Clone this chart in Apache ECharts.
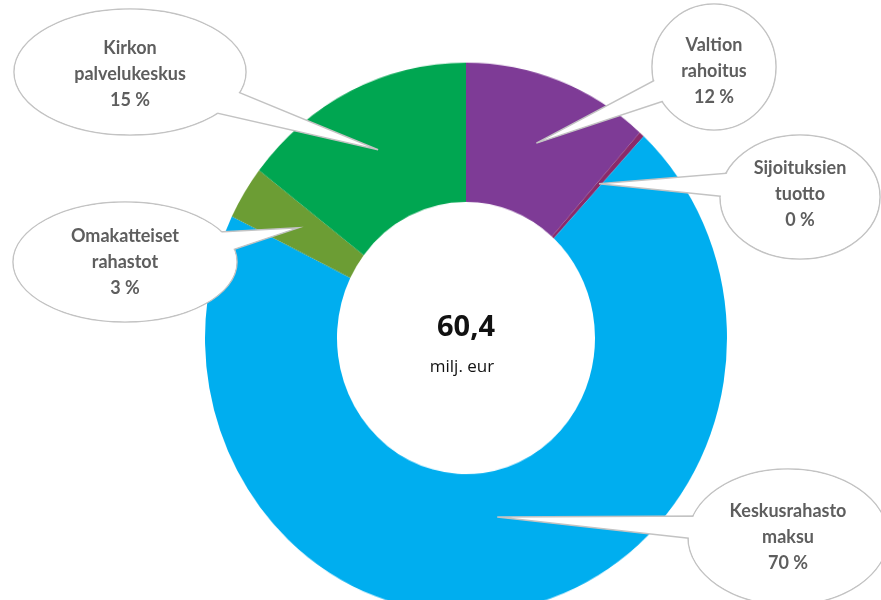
<!DOCTYPE html>
<html>
<head>
<meta charset="utf-8">
<script src="https://cdn.jsdelivr.net/npm/echarts@6/dist/echarts.min.js"></script>
<style>
  html, body { margin: 0; padding: 0; background: #ffffff; }
  #wrap { position: relative; width: 881px; height: 600px; overflow: hidden; }
  #ring, #notes { position: absolute; left: 0; top: 0; width: 881px; height: 600px; }
  /* the ring is drawn slightly taller than wide */
  #ring { transform: scaleY(1.055); transform-origin: 466px 338px; }
</style>
</head>
<body>
<div id="wrap">
  <div id="ring"></div>
  <div id="notes"></div>
</div>
<script>
// Funding sources, clockwise from 12 o'clock (milj. eur)
const categories = ['Valtion rahoitus', 'Sijoituksien tuotto', 'Keskusrahasto maksu', 'Omakatteiset rahastot', 'Kirkon palvelukeskus'];
const labelRows = [['Valtion', 'rahoitus'], ['Sijoituksien', 'tuotto'], ['Keskusrahasto', 'maksu'], ['Omakatteiset', 'rahastot'], ['Kirkon', 'palvelukeskus']];
const values = [7.0, 0.2, 42.5, 1.9, 8.8];
const unitLabel = 'milj. eur';

const sliceColors = ['#7e3b96', '#8a2a6a', '#00aeef', '#6c9d34', '#00a651'];

const RING_CX = 466, RING_CY = 338, STRETCH_Y = 1.055;

// Speech-bubble callouts: ellipse box, the two angles (deg) where the pointer
// leaves it, and how deep into the ring the pointer reaches (0 = inner edge)
const callouts = [
  { cx: 714, cy: 67,  rx: 62,  ry: 63, base: [145, 169], ty: 71,  depth: 0.52 },
  { cx: 800, cy: 197, rx: 80,  ry: 62, base: [180, 206], ty: 194, depth: 0.52 },
  { cx: 788, cy: 537, rx: 100, ry: 68, base: [178, 200], ty: 537, depth: 0.33 },
  { cx: 125, cy: 262, rx: 112, ry: 60, base: [327, 350], ty: 262, depth: 0.52 },
  { cx: 130, cy: 72,  rx: 116, ry: 63, base: [17, 43],   ty: 74,  depth: 0.53 }
];

const ring = echarts.init(document.getElementById('ring'), null, { renderer: 'canvas' });

ring.setOption({
  animation: false,
  series: [{
    type: 'pie',
    center: [RING_CX, RING_CY],
    radius: [129, 261],
    startAngle: 90,
    clockwise: true,
    silent: true,
    label: { show: false },
    labelLine: { show: false },
    data: categories.map((name, i) => ({
      name: name,
      value: values[i],
      itemStyle: { color: sliceColors[i] }
    }))
  }]
});

const total = values.reduce((a, b) => a + b, 0);
const seriesData = ring.getModel().getSeriesByIndex(0).getData();

const notes = echarts.init(document.getElementById('notes'), null, { renderer: 'canvas' });

const borderColor = '#c3c3c3';
const elements = [];

callouts.forEach((c, i) => {
  const lay = seriesData.getItemLayout(i);
  const mid = (lay.startAngle + lay.endAngle) / 2;
  const rt = lay.r0 + c.depth * (lay.r - lay.r0);
  const px = lay.cx + rt * Math.cos(mid);
  const py = lay.cy + rt * Math.sin(mid);
  // map into the stretched ring's page position
  const tip = [px, RING_CY + (py - RING_CY) * STRETCH_Y];
  const basePt = a => {
    const t = a * Math.PI / 180;
    return [c.cx + 0.9 * c.rx * Math.cos(t), c.cy + 0.9 * c.ry * Math.sin(t)];
  };
  const pointer = [basePt(c.base[0]), tip, basePt(c.base[1])];

  elements.push({
    type: 'ellipse', z: 10, silent: true,
    shape: { cx: c.cx, cy: c.cy, rx: c.rx, ry: c.ry },
    style: { fill: '#ffffff', stroke: borderColor, lineWidth: 1.5 }
  });
  elements.push({
    type: 'polygon', z: 11, silent: true,
    shape: { points: pointer },
    style: { fill: '#ffffff', stroke: borderColor, lineWidth: 1.5 }
  });
  // cover the part of the pointer outline that lies inside the ellipse
  elements.push({
    type: 'ellipse', z: 12, silent: true,
    shape: { cx: c.cx, cy: c.cy, rx: c.rx - 0.8, ry: c.ry - 0.8 },
    style: { fill: '#ffffff' }
  });
  const pct = Math.round(values[i] / total * 100);
  elements.push({
    type: 'text', z: 13, silent: true,
    style: {
      x: c.cx, y: c.ty,
      text: labelRows[i].join('\n') + '\n' + pct + ' %',
      align: 'center', verticalAlign: 'middle',
      fontFamily: 'Lato', fontWeight: 'bold', fontSize: 18,
      lineHeight: 26, fill: '#5e5e5e'
    }
  });
});

// total in the middle of the ring
elements.push({
  type: 'text', z: 13, silent: true,
  style: {
    x: 466, y: 328,
    text: total.toFixed(1).replace('.', ','),
    align: 'center', verticalAlign: 'middle',
    fontFamily: 'Open Sans', fontWeight: 'bold', fontSize: 29, fill: '#111111'
  }
});
elements.push({
  type: 'text', z: 13, silent: true,
  style: {
    x: 462, y: 367,
    text: unitLabel,
    align: 'center', verticalAlign: 'middle',
    fontFamily: 'Open Sans', fontSize: 17, fill: '#111111'
  }
});

notes.setOption({ animation: false, graphic: { elements: elements } });
</script>
</body>
</html>
